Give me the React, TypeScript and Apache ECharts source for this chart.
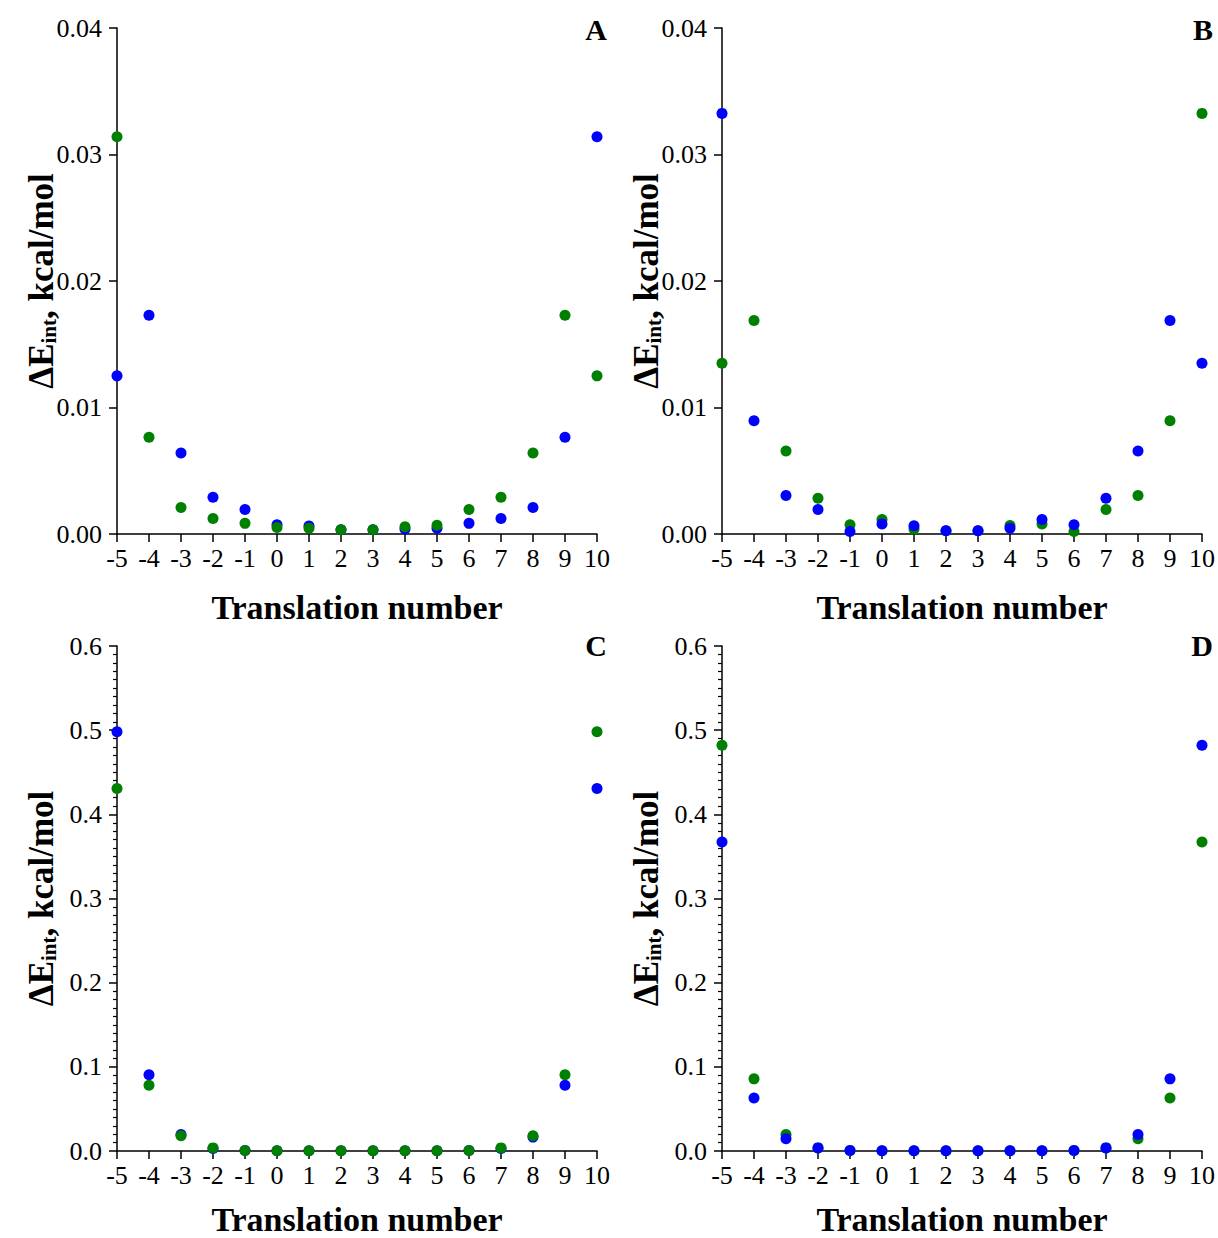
import React, { useEffect, useRef } from "react";
import * as echarts from "echarts";

const translation = [-5, -4, -3, -2, -1, 0, 1, 2, 3, 4, 5, 6, 7, 8, 9, 10];

const aBlue = [0.0125, 0.0173, 0.0064, 0.0029, 0.00193, 0.00073, 0.00063, 0.00033, 0.00033, 0.0004, 0.00046, 0.00084, 0.00122, 0.0021, 0.00765, 0.0314];
const aGreen = [0.0314, 0.00765, 0.0021, 0.00122, 0.00084, 0.00052, 0.00046, 0.00033, 0.00033, 0.00057, 0.0007, 0.00193, 0.0029, 0.0064, 0.0173, 0.0125];

const bBlue = [0.03325, 0.00895, 0.00305, 0.00193, 0.0002, 0.0008, 0.00065, 0.00025, 0.00025, 0.00046, 0.00114, 0.00073, 0.00283, 0.00656, 0.01687, 0.0135];
const bGreen = [0.0135, 0.01687, 0.00656, 0.00283, 0.00073, 0.00114, 0.0004, 0.00025, 0.00025, 0.00068, 0.0008, 0.0002, 0.00193, 0.00305, 0.00895, 0.03325];

const cBlue = [0.498, 0.0906, 0.0196, 0.003, 0.0005, 0.0002, 0.0002, 0.0002, 0.0002, 0.0002, 0.0002, 0.0005, 0.003, 0.0165, 0.078, 0.4306];
const cGreen = [0.4306, 0.078, 0.018, 0.0037, 0.0005, 0.0002, 0.0002, 0.0002, 0.0002, 0.0002, 0.0002, 0.0005, 0.0037, 0.018, 0.0906, 0.498];

const dBlue = [0.367, 0.0629, 0.0147, 0.0037, 0.0005, 0.0003, 0.0003, 0.0003, 0.0003, 0.0003, 0.0003, 0.0005, 0.0037, 0.0196, 0.0857, 0.482];
const dGreen = [0.482, 0.0857, 0.0196, 0.0037, 0.0005, 0.0003, 0.0003, 0.0003, 0.0003, 0.0003, 0.0003, 0.0005, 0.0037, 0.0147, 0.0629, 0.367];

const panelLetters = ["A", "B", "C", "D"];
const xTitle = "Translation number";
const yTitleParts = ["ΔE", "int", ", kcal/mol"];

const BLUE = "#0000ff";
const GREEN = "#008000";
const FONT = "Liberation Serif";

export default function App() {
  const ref = useRef<HTMLDivElement>(null);
  useEffect(() => {
    if (!ref.current) return;
    const chart = echarts.init(ref.current, null, { renderer: "svg" });

    const grids = [
      { left: 117, top: 28, width: 480, height: 506, outerBoundsMode: "none", containLabel: false },
      { left: 722, top: 28, width: 480, height: 506, outerBoundsMode: "none", containLabel: false },
      { left: 117, top: 646, width: 480, height: 505, outerBoundsMode: "none", containLabel: false },
      { left: 722, top: 646, width: 480, height: 505, outerBoundsMode: "none", containLabel: false },
    ];

    const lineStyle = { color: "#000", width: 1.5 };
    const axisTick = { show: true, length: 8, lineStyle };

    const xAxes = grids.map((_, i) => ({
      type: "value",
      gridIndex: i,
      min: -5,
      max: 10,
      interval: 1,
      axisLine: { show: true, onZero: false, lineStyle },
      axisTick,
      splitLine: { show: false },
      axisLabel: { fontFamily: FONT, fontSize: 26, color: "#000", margin: 11 },
      name: xTitle,
      nameLocation: "middle",
      nameGap: i < 2 ? 60 : 55,
      nameTextStyle: { fontFamily: FONT, fontSize: 34, fontWeight: "bold", color: "#000", lineHeight: 26 },
    }));

    const yRanges = [
      { max: 0.04, interval: 0.01, dec: 2, minor: false },
      { max: 0.04, interval: 0.01, dec: 2, minor: false },
      { max: 0.6, interval: 0.1, dec: 1, minor: true },
      { max: 0.6, interval: 0.1, dec: 1, minor: true },
    ];

    const yAxes = yRanges.map((r, i) => ({
      type: "value",
      gridIndex: i,
      min: 0,
      max: r.max,
      interval: r.interval,
      axisLine: { show: true, onZero: false, lineStyle },
      axisTick,
      minorTick: { show: r.minor, splitNumber: 10, length: 4, lineStyle: { color: "#000", width: 1.2 } },
      splitLine: { show: false },
      minorSplitLine: { show: false },
      axisLabel: {
        fontFamily: FONT,
        fontSize: 26,
        color: "#000",
        margin: 15,
        formatter: (v: number) => v.toFixed(r.dec),
      },
      name: `{m|${yTitleParts[0]}}{s|${yTitleParts[1]}}{m|${yTitleParts[2]}}`,
      nameLocation: "middle",
      nameGap: 58,
      nameMoveOverlap: false,
      nameTextStyle: {
        fontFamily: FONT,
        fontSize: 35,
        fontWeight: "bold",
        color: "#000",
        rich: {
          m: { fontFamily: FONT, fontSize: 35, fontWeight: "bold", color: "#000", lineHeight: 35, verticalAlign: "bottom" },
          s: { fontFamily: FONT, fontSize: 21, fontWeight: "bold", color: "#000", lineHeight: 12, verticalAlign: "bottom" },
        },
      },
    }));

    const mk = (name: string, data: number[], color: string, idx: number) => ({
      type: "scatter",
      name,
      xAxisIndex: idx,
      yAxisIndex: idx,
      symbol: "circle",
      symbolSize: 11,
      itemStyle: { color, opacity: 1 },
      data: translation.map((t, k) => [t, data[k]]),
    });

    const series = [
      mk("A blue", aBlue, BLUE, 0),
      mk("A green", aGreen, GREEN, 0),
      mk("B green", bGreen, GREEN, 1),
      mk("B blue", bBlue, BLUE, 1),
      mk("C blue", cBlue, BLUE, 2),
      mk("C green", cGreen, GREEN, 2),
      mk("D green", dGreen, GREEN, 3),
      mk("D blue", dBlue, BLUE, 3),
    ];

    const letterPos = [
      { x: 607, y: 29 },
      { x: 1213, y: 29 },
      { x: 607, y: 645 },
      { x: 1213, y: 645 },
    ];

    chart.setOption({
      animation: false,
      backgroundColor: "#fff",
      grid: grids,
      xAxis: xAxes,
      yAxis: yAxes,
      series,
      graphic: panelLetters.map((l, i) => ({
        type: "text",
        x: letterPos[i].x,
        y: letterPos[i].y,
        style: {
          text: l,
          fontFamily: FONT,
          fontSize: 30,
          fontWeight: "bold",
          fill: "#000",
          textAlign: "right",
          textVerticalAlign: "middle",
        },
      })),
    });

    return () => chart.dispose();
  }, []);

  return (
    <div
      ref={ref}
      style={{ position: "absolute", left: 0, top: 0, width: 1218, height: 1238 }}
    />
  );
}
